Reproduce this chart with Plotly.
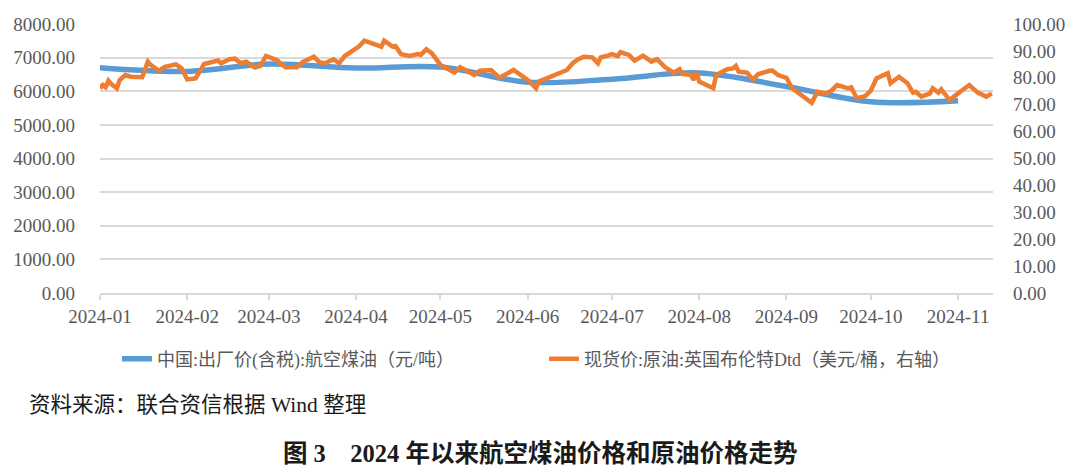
import plotly.graph_objects as go

# ---- data ----
jet_dates = ["2024-01-01", "2024-02-01", "2024-03-01", "2024-04-01", "2024-05-01", "2024-06-01",
             "2024-07-01", "2024-08-01", "2024-09-01", "2024-10-01", "2024-11-01"]
jet_price = [6700, 6590, 6810, 6690, 6720, 6270, 6360, 6545, 6140, 5690, 5720]

brent_dates = [
    "2024-01-01", "2024-01-02", "2024-01-03", "2024-01-04", "2024-01-05", "2024-01-07", "2024-01-08",
    "2024-01-10", "2024-01-12", "2024-01-16", "2024-01-18", "2024-01-19", "2024-01-22", "2024-01-24",
    "2024-01-28", "2024-01-30",
    "2024-02-01", "2024-02-04", "2024-02-07", "2024-02-12", "2024-02-13", "2024-02-16", "2024-02-18",
    "2024-02-20", "2024-02-22", "2024-02-25", "2024-02-27", "2024-02-29",
    "2024-03-04", "2024-03-05", "2024-03-07", "2024-03-11", "2024-03-13", "2024-03-17", "2024-03-19",
    "2024-03-21", "2024-03-24", "2024-03-26", "2024-03-28", "2024-03-31",
    "2024-04-02", "2024-04-04", "2024-04-10", "2024-04-11", "2024-04-14", "2024-04-15", "2024-04-17",
    "2024-04-20", "2024-04-23", "2024-04-24", "2024-04-26", "2024-04-28",
    "2024-05-01", "2024-05-06", "2024-05-08", "2024-05-11", "2024-05-13", "2024-05-15", "2024-05-19",
    "2024-05-22", "2024-05-27",
    "2024-06-01", "2024-06-04", "2024-06-05", "2024-06-09", "2024-06-12", "2024-06-15", "2024-06-17",
    "2024-06-19", "2024-06-21", "2024-06-24", "2024-06-26", "2024-06-27", "2024-06-29",
    "2024-07-01", "2024-07-03", "2024-07-04", "2024-07-07", "2024-07-09", "2024-07-12", "2024-07-15",
    "2024-07-17", "2024-07-20", "2024-07-23", "2024-07-25", "2024-07-26", "2024-07-29", "2024-07-30",
    "2024-07-31",
    "2024-08-01", "2024-08-06", "2024-08-07", "2024-08-11", "2024-08-13", "2024-08-14", "2024-08-15",
    "2024-08-18", "2024-08-20", "2024-08-22", "2024-08-26", "2024-08-27", "2024-08-29",
    "2024-09-01", "2024-09-03", "2024-09-06", "2024-09-08", "2024-09-10", "2024-09-12", "2024-09-15",
    "2024-09-17", "2024-09-19", "2024-09-23", "2024-09-24", "2024-09-26", "2024-09-29",
    "2024-10-01", "2024-10-03", "2024-10-07", "2024-10-08", "2024-10-11", "2024-10-14", "2024-10-16",
    "2024-10-17", "2024-10-19", "2024-10-22", "2024-10-23", "2024-10-25", "2024-10-26", "2024-10-29",
    "2024-11-01", "2024-11-05", "2024-11-08", "2024-11-11", "2024-11-13",
]
brent_price = [
    76.1, 77.3, 76.5, 78.9, 77.7, 76.1, 79.2, 81.0, 80.4, 80.2, 86.0, 84.8, 82.6, 84.1, 85.0, 83.5,
    79.4, 79.8, 85.1, 86.4, 85.4, 86.9, 87.1, 85.4, 86.0, 83.8, 84.4, 88.1,
    86.6, 85.4, 83.9, 83.9, 85.8, 87.8, 85.8, 85.4, 86.9, 85.4, 88.1, 90.0,
    91.6, 93.8, 91.6, 93.8, 91.6, 91.8, 88.8, 88.1, 88.8, 88.5, 90.6, 89.1,
    84.8, 82.0, 83.9, 82.3, 81.0, 82.6, 82.9, 80.0, 82.9,
    79.2, 76.1, 78.6, 80.4, 81.9, 82.9, 85.4, 86.9, 87.8, 87.6, 85.4, 87.6, 88.1,
    88.8, 88.1, 89.5, 88.5, 86.4, 88.2, 86.0, 86.9, 83.8, 81.9, 83.2, 81.4, 81.0, 79.2, 82.0,
    78.6, 76.1, 81.0, 83.2, 83.5, 84.4, 82.3, 81.9, 79.4, 81.4, 82.6, 82.7, 81.0,
    80.0, 76.1, 73.6, 72.4, 70.7, 74.8, 74.2, 75.2, 77.3, 76.1, 76.5, 72.4, 73.2,
    75.2, 79.8, 81.7, 78.0, 80.4, 78.0, 74.5, 74.8, 73.0, 74.2, 76.1, 74.5, 75.7, 71.7,
    74.2, 77.3, 74.5, 73.0, 74.2,
]

month_ticks = ["2024-01-01", "2024-02-01", "2024-03-01", "2024-04-01", "2024-05-01", "2024-06-01",
               "2024-07-01", "2024-08-01", "2024-09-01", "2024-10-01", "2024-11-01"]
month_labels = ["2024-01", "2024-02", "2024-03", "2024-04", "2024-05", "2024-06",
                "2024-07", "2024-08", "2024-09", "2024-10", "2024-11"]

name_jet = "中国:出厂价(含税):航空煤油（元/吨）"
name_brent = "现货价:原油:英国布伦特Dtd（美元/桶，右轴）"
source_text = "资料来源：联合资信根据 Wind 整理"
title_text = "图 3    2024 年以来航空煤油价格和原油价格走势"

# ---- styles ----
BLUE = "#5B9BD5"
ORANGE = "#ED7D31"
GRID = "#D9D9D9"
TICK = "#595959"
SERIF = "Liberation Serif, Noto Sans CJK SC, serif"

fig = go.Figure()
fig.add_trace(go.Scatter(
    x=jet_dates, y=jet_price, name=name_jet, mode="lines",
    line=dict(color=BLUE, width=5.5, shape="spline", smoothing=1.0),
    yaxis="y", legend="legend",
))
fig.add_trace(go.Scatter(
    x=brent_dates, y=brent_price, name=name_brent, mode="lines",
    line=dict(color=ORANGE, width=4.5),
    yaxis="y2", legend="legend2",
))

# page offset caused by default body margin (8px)
OFF = 8
L, R, T, B = 100 - OFF, 87, 24 - OFF, 179
W, H = 1080 - OFF, 472 - OFF
pw = W - L - R
ph = H - T - B

def px_x(x):
    # x given in page pixels
    return (x - OFF - L) / pw

def px_y(y):
    # y given in page pixels
    return (H - B - (y - OFF)) / ph

fig.update_layout(
    width=W, height=H,
    margin=dict(l=L, r=R, t=T, b=B, pad=0, autoexpand=False),
    paper_bgcolor="white", plot_bgcolor="white",
    font=dict(family=SERIF, size=19, color=TICK),
    xaxis=dict(
        type="date", range=["2024-01-01", "2024-11-13 10:00"],
        tickvals=month_ticks, ticktext=month_labels,
        showgrid=False, showline=True, linecolor=GRID, linewidth=1.5,
        ticks="outside", ticklen=5, tickcolor=GRID, tickwidth=1.5,
        tickfont=dict(family=SERIF, size=19, color=TICK),
        ticklabelstandoff=0, zeroline=False, automargin=False,
    ),
    yaxis=dict(
        range=[0, 8000], dtick=1000, tick0=0, tickformat=".2f",
        showgrid=True, gridcolor=GRID, gridwidth=1.5, zeroline=False,
        showline=False, ticks="", ticklabelstandoff=24, automargin=False,
        tickfont=dict(family=SERIF, size=19, color=TICK),
    ),
    yaxis2=dict(
        range=[0, 100], dtick=10, tick0=0, tickformat=".2f",
        overlaying="y", side="right", showgrid=False, zeroline=False,
        showline=False, ticks="", ticklabelstandoff=19, automargin=False,
        tickfont=dict(family=SERIF, size=19, color=TICK),
    ),
    legend=dict(
        x=px_x(117), y=px_y(359), xanchor="left", yanchor="middle",
        orientation="h", bgcolor="rgba(0,0,0,0)",
        font=dict(family=SERIF, size=18, color=TICK),
    ),
    legend2=dict(
        x=px_x(544), y=px_y(359), xanchor="left", yanchor="middle",
        orientation="h", bgcolor="rgba(0,0,0,0)",
        font=dict(family=SERIF, size=18, color=TICK),
    ),
    showlegend=True,
    annotations=[
        dict(text=source_text, x=px_x(27), y=px_y(405), xref="paper", yref="paper",
             xanchor="left", yanchor="middle", showarrow=False,
             font=dict(family=SERIF, size=21.5, color="#1a1a1a")),
        dict(text="<b>" + title_text + "</b>", x=px_x(540), y=px_y(453), xref="paper", yref="paper",
             xanchor="center", yanchor="middle", showarrow=False,
             font=dict(family=SERIF, size=24.5, color="#1a1a1a")),
    ],
)

fig.write_html("out.html")
